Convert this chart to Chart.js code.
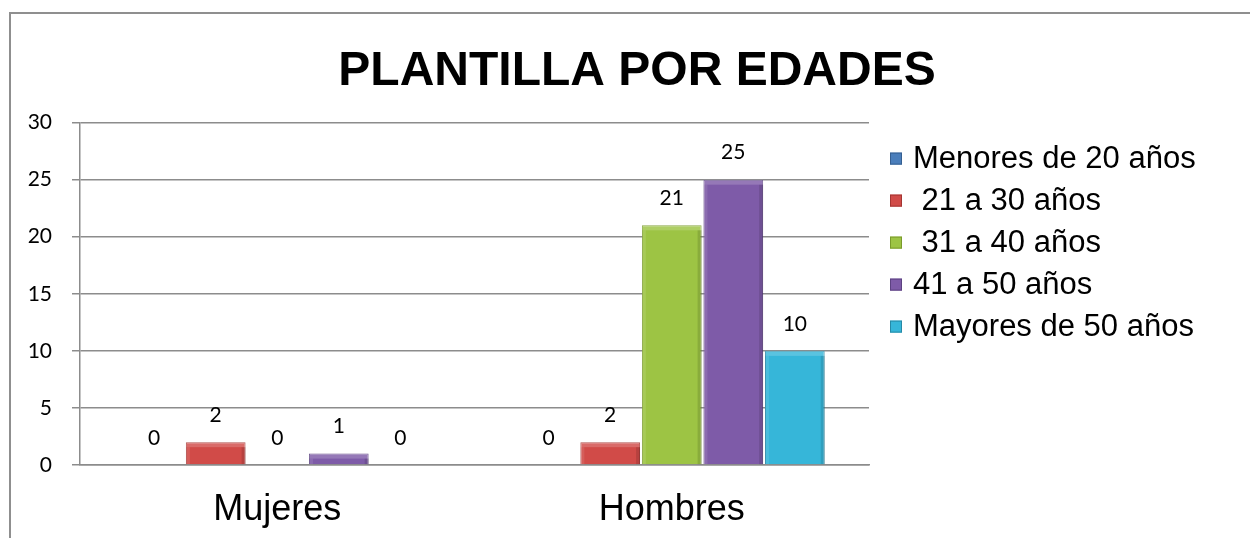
<!DOCTYPE html>
<html>
<head>
<meta charset="utf-8">
<script src="https://cdn.jsdelivr.net/npm/chart.js@4.4.1/dist/chart.umd.min.js"></script>
<style>
  body { margin: 0; background: #fff; overflow: hidden; }
  #wrap { position: relative; width: 1250px; height: 538px; }
  #frame { position: absolute; left: 9px; top: 12px; width: 1400px; height: 700px; border: 2px solid #8f8f8f; }
  canvas { position: absolute; left: 0; top: 0; }
</style>
</head>
<body>
<div id="wrap">
  <div id="frame"></div>
  <canvas id="chart" width="1250" height="538"></canvas>
</div>
<script>
const categories = ["Mujeres", "Hombres"];
const seriesNames = ["Menores de 20 años", " 21 a 30 años", " 31 a 40 años", "41 a 50 años", "Mayores de 50 años"];
const menores20 = [0, 0];
const de21a30 = [2, 2];
const de31a40 = [0, 21];
const de41a50 = [1, 25];
const mayores50 = [0, 10];
const yTicks = [0, 5, 10, 15, 20, 25, 30];

const fills = ["#4a7ebb", "#d14b48", "#9dc444", "#7e5ba8", "#36b6d9"];
const edges = ["#355f91", "#a33532", "#7a9a2c", "#5c4281", "#2689a6"];
const seriesValues = [menores20, de21a30, de31a40, de41a50, mayores50];

// numbers above every bar, zeros included
const valueLabels = {
  id: "valueLabels",
  afterDatasetsDraw(chart) {
    const ctx = chart.ctx;
    ctx.save();
    ctx.font = "21px Lato";
    ctx.fillStyle = "#000";
    ctx.textAlign = "center";
    ctx.textBaseline = "middle";
    chart.data.datasets.forEach((ds, i) => {
      chart.getDatasetMeta(i).data.forEach((bar, j) => {
        ctx.fillText(String(ds.data[j]), bar.x, bar.y - 27);
      });
    });
    ctx.restore();
  }
};

// rough bevel shading on top of the flat bars
const bevel = {
  id: "bevel",
  afterDatasetsDraw(chart) {
    const ctx = chart.ctx;
    ctx.save();
    chart.data.datasets.forEach((ds, i) => {
      chart.getDatasetMeta(i).data.forEach((bar, j) => {
        if (!ds.data[j]) return;
        const l = bar.x - bar.width / 2, t = bar.y, h = bar.base - bar.y, w = bar.width;
        const b = Math.min(5, h / 2);
        ctx.fillStyle = "rgba(255,255,255,0.18)";
        ctx.fillRect(l, t, w, b);
        ctx.fillStyle = "rgba(255,255,255,0.1)";
        ctx.fillRect(l, t + b, 4, h - b);
        ctx.fillStyle = "rgba(0,0,0,0.12)";
        ctx.fillRect(l + w - 4, t + b, 4, h - b);
      });
    });
    ctx.restore();
  }
};

// legend drawn by hand: the built-in one gets capped to a quarter of the width
const sideLegend = {
  id: "sideLegend",
  afterDraw(chart) {
    const ctx = chart.ctx;
    const area = chart.chartArea;
    ctx.save();
    ctx.font = "31px Liberation Sans";
    ctx.textBaseline = "middle";
    chart.data.datasets.forEach((ds, i) => {
      const y = area.top + 36 + i * 42;
      const x = area.right + 21;
      ctx.fillStyle = ds.backgroundColor;
      ctx.fillRect(x, y - 6, 12, 12);
      ctx.strokeStyle = ds.borderColor;
      ctx.lineWidth = 1;
      ctx.strokeRect(x + 0.5, y - 5.5, 11, 11);
      ctx.fillStyle = "#000";
      ctx.fillText(ds.label, x + 23, y + 1);
    });
    ctx.restore();
  }
};

new Chart(document.getElementById("chart"), {
  type: "bar",
  data: {
    labels: categories,
    datasets: seriesValues.map((vals, i) => ({
      label: seriesNames[i],
      data: vals,
      backgroundColor: fills[i],
      borderColor: edges[i],
      borderWidth: (c) => (c.raw ? 1 : 0),
      borderSkipped: "start",
      categoryPercentage: 0.78,
      barPercentage: 0.97,
    })),
  },
  options: {
    responsive: false,
    animation: false,
    layout: { padding: { top: 0, left: 24, right: 0, bottom: 10 } },
    plugins: {
      title: {
        display: true,
        text: "PLANTILLA POR EDADES",
        color: "#000",
        font: { family: "Liberation Sans", size: 48, weight: "bold", lineHeight: 1.2 },
        padding: { top: 43, bottom: 22 },
      },
      legend: { display: false },
      tooltip: { enabled: false },
    },
    scales: {
      x: {
        afterFit: (s) => { s.height = 63; },
        grid: { display: false },
        border: { display: true, color: "#8c8c8c", width: 1.5 },
        ticks: { color: "#000", font: { family: "Liberation Sans", size: 36 }, padding: 15 },
      },
      y: {
        min: 0,
        max: 30,
        afterFit: (s) => { s.width = 56; },
        afterBuildTicks: (s) => { s.ticks = yTicks.map((v) => ({ value: v })); },
        grid: { color: "#8c8c8c", lineWidth: 1.5, tickLength: 8 },
        border: { display: true, color: "#8c8c8c", width: 1.5 },
        ticks: { color: "#000", font: { family: "Lato", size: 21 }, padding: 20 },
      },
      // empty right axis, only keeps room for the legend
      room: {
        position: "right",
        afterFit: (s) => { s.width = 381; },
        grid: { display: false },
        border: { display: false },
        ticks: { display: false },
      },
    },
  },
  plugins: [valueLabels, bevel, sideLegend],
});
</script>
</body>
</html>
